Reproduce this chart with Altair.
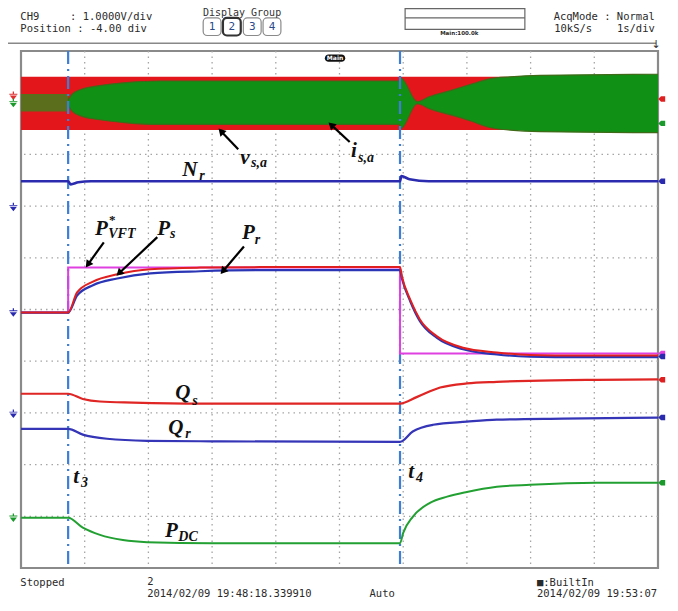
import altair as alt
import pandas as pd

# ---------------- values (time in s = div, level in div above bottom) ----
trig_t = [0.74, 5.95]                     # t3, t4 trigger markers
grid_t = [1, 2, 3, 4, 5, 6, 7, 8, 9]
grid_d = [1, 2, 3, 4, 5, 6, 7, 8, 9]

# v_s,a band (red envelope)
vsa_t = [0.0, 10.0]
vsa_hi = [9.50, 9.50]
vsa_lo = [8.47, 8.47]

# i_s,a before t3 (small, dark)
isa_pre_t = [0.0, 0.74]
isa_pre_hi = [9.17, 9.17]
isa_pre_lo = [8.83, 8.83]

# i_s,a envelope after t3 (green)
isa_t = [0.74, 0.80, 0.93, 1.24, 1.66, 2.18, 3.00, 5.94, 5.96, 6.22, 6.42, 6.73, 7.05, 7.36, 7.68, 8.15, 10.0]
isa_hi = [9.05, 9.16, 9.25, 9.33, 9.39, 9.42, 9.42, 9.42, 9.48, 9.02, 9.12, 9.23, 9.35, 9.46, 9.50, 9.53, 9.55]
isa_lo = [8.95, 8.84, 8.75, 8.67, 8.61, 8.58, 8.58, 8.58, 8.50, 8.98, 8.88, 8.77, 8.65, 8.52, 8.47, 8.44, 8.42]

nr_t = [0.0, 0.74, 0.78, 0.90, 1.10, 5.95, 5.97, 6.10, 6.40, 10.0]
nr_v = [7.48, 7.48, 7.42, 7.46, 7.48, 7.48, 7.58, 7.52, 7.48, 7.48]

pvft_t = [0.0, 0.74, 0.74, 5.95, 5.95, 10.0]
pvft_v = [4.94, 4.94, 5.81, 5.81, 4.15, 4.15]

ps_t = [0.0, 0.74, 0.88, 1.13, 1.51, 2.03, 2.81, 3.75, 5.95, 5.98, 6.11, 6.26, 6.53, 6.94, 7.47, 7.99, 8.78, 10.0]
ps_v = [4.94, 4.94, 5.33, 5.54, 5.68, 5.78, 5.81, 5.82, 5.82, 5.64, 5.19, 4.81, 4.48, 4.26, 4.17, 4.12, 4.11, 4.11]

pr_t = [0.0, 0.74, 0.88, 1.13, 1.51, 2.03, 2.81, 3.75, 5.95, 5.98, 6.11, 6.26, 6.53, 6.94, 7.47, 7.99, 8.78, 10.0]
pr_v = [4.94, 4.94, 5.27, 5.47, 5.60, 5.70, 5.74, 5.76, 5.76, 5.60, 5.16, 4.78, 4.45, 4.23, 4.13, 4.09, 4.08, 4.08]

qs_t = [0.0, 0.74, 0.97, 1.24, 1.76, 2.81, 5.95, 6.22, 6.58, 7.00, 7.47, 7.99, 9.04, 10.0]
qs_v = [3.37, 3.37, 3.27, 3.22, 3.20, 3.18, 3.18, 3.31, 3.49, 3.57, 3.60, 3.62, 3.64, 3.65]

qr_t = [0.0, 0.74, 0.97, 1.35, 1.98, 3.00, 5.95, 6.15, 6.47, 7.00, 7.47, 8.51, 10.0]
qr_v = [2.69, 2.69, 2.58, 2.50, 2.46, 2.45, 2.44, 2.64, 2.77, 2.83, 2.87, 2.89, 2.91]

pdc_t = [0.0, 0.74, 0.97, 1.24, 1.60, 1.98, 3.00, 5.95, 6.00, 6.15, 6.42, 6.69, 7.00, 7.47, 7.99, 9.04, 10.0]
pdc_v = [0.97, 0.97, 0.78, 0.64, 0.54, 0.50, 0.48, 0.48, 0.68, 0.99, 1.26, 1.38, 1.47, 1.57, 1.61, 1.65, 1.65]

# channel markers
gnd_d = [9.13, 8.99, 6.98, 4.94, 2.98, 0.97]
gnd_c = ["#e03030", "#1a9a2a", "#2a2ab0", "#2a2ab0", "#2a2ab0", "#1a9a2a"]
end_d = [9.07, 8.60, 7.48, 4.15, 4.09, 3.64, 2.91, 1.65]
end_c = ["#e02020", "#1a9a2a", "#2a2ab0", "#e040e0", "#2a2ab0", "#e02020", "#2a2ab0", "#1a9a2a"]

# annotation labels: main symbol + subscript
lab_main = ["N", "v", "i", "P", "P", "P", "Q", "Q", "t", "t", "P"]
lab_mx = [2.53, 3.44, 5.18, 1.16, 2.14, 3.47, 2.42, 2.31, 0.82, 6.08, 2.26]
lab_my = [7.58, 7.81, 7.95, 6.45, 6.45, 6.36, 3.26, 2.60, 1.65, 1.74, 0.60]
lab_sub = ["r", "s,a", "s,a", "VFT", "s", "r", "s", "r", "3", "4", "DC"]
lab_sx = [2.80, 3.61, 5.29, 1.37, 2.34, 3.67, 2.69, 2.58, 0.94, 6.20, 2.47]
lab_sy = [7.50, 7.75, 7.85, 6.38, 6.38, 6.26, 3.16, 2.52, 1.57, 1.67, 0.52]

# arrows: start (label side) -> tip
arr_id = ["v", "i", "pvft", "ps", "pr"]
arr_x0 = [3.41, 5.16, 1.30, 2.14, 3.50]
arr_y0 = [8.10, 8.24, 6.30, 6.40, 6.22]
arr_x1 = [3.14, 4.87, 1.05, 1.54, 3.17]
arr_y1 = [8.45, 8.57, 5.87, 5.70, 5.74]
arr_ang = [317, 312, 216, 226, 220]

# screen header / footer texts
hdr_left = ["CH9", ": 1.0000V/div", "Position : -4.00 div", "10kS/s"]
hdr_left_x = [-0.01, 0.77, -0.01, 8.37]
hdr_left_y = [10.60, 10.60, 10.37, 10.37]
ftr_left = ["Stopped", "2", "2014/02/09 19:48:18.339910", "\u25a0:BuiltIn", "2014/02/09 19:53:07"]
ftr_left_x = [-0.01, 1.98, 1.98, 8.10, 8.10]
ftr_left_y = [-0.35, -0.33, -0.56, -0.35, -0.56]

# ------------------------------------------------------------------------------------------
xs = alt.Scale(domain=[0, 10], nice=False, zero=False)
ys = alt.Scale(domain=[0, 10], nice=False, zero=False)
X = lambda f: alt.X(f, type="quantitative", scale=xs, axis=None)
Y = lambda f: alt.Y(f, type="quantitative", scale=ys, axis=None)

layers = []

# grid
layers.append(alt.Chart(pd.DataFrame({"t": grid_t})).mark_rule(
    color="#a5a5a5", strokeDash=[1.5, 4], strokeWidth=1.3).encode(x=X("t")))
layers.append(alt.Chart(pd.DataFrame({"d": grid_d})).mark_rule(
    color="#a5a5a5", strokeDash=[1.5, 4], strokeWidth=1.3).encode(y=Y("d")))

# v_s,a band
layers.append(alt.Chart(pd.DataFrame({"t": vsa_t, "hi": vsa_hi, "lo": vsa_lo})).mark_area(
    color="#e3161c", opacity=1).encode(x=X("t"), y=Y("hi"), y2="lo:Q"))
# i_s,a small before t3
layers.append(alt.Chart(pd.DataFrame({"t": isa_pre_t, "hi": isa_pre_hi, "lo": isa_pre_lo})).mark_area(
    color="#5a6e1c", opacity=1).encode(x=X("t"), y=Y("hi"), y2="lo:Q"))
# i_s,a envelope
isa_df = pd.DataFrame({"t": isa_t, "hi": isa_hi, "lo": isa_lo})
layers.append(alt.Chart(isa_df).mark_area(color="#119016", opacity=1, interpolate="monotone").encode(
    x=X("t"), y=Y("hi"), y2="lo:Q"))
layers.append(alt.Chart(isa_df).mark_line(color="#3f6a18", strokeWidth=1.2, interpolate="monotone").encode(
    x=X("t"), y=Y("hi")))
layers.append(alt.Chart(isa_df).mark_line(color="#3f6a18", strokeWidth=1.2, interpolate="monotone").encode(
    x=X("t"), y=Y("lo")))

# trigger markers t3 / t4
layers.append(alt.Chart(pd.DataFrame({"t": trig_t})).mark_rule(
    color="#3d7fd6", strokeDash=[13, 5, 2, 5], strokeWidth=2.2).encode(x=X("t")))


def trace(t, v, color, width=2.0, interp="monotone"):
    df = pd.DataFrame({"t": t, "v": v, "i": list(range(len(t)))})
    return alt.Chart(df).mark_line(color=color, strokeWidth=width, interpolate=interp).encode(
        x=X("t"), y=Y("v"), order=alt.Order("i:Q"))


layers.append(trace(nr_t, nr_v, "#2b2bb0", 2.6))
layers.append(trace(pvft_t, pvft_v, "#e040e0", 2.0, "linear"))
layers.append(trace(pr_t, pr_v, "#2a35b5", 2.2))
layers.append(trace(ps_t, ps_v, "#e02020", 2.0))
layers.append(trace(qs_t, qs_v, "#e02525", 2.2))
layers.append(trace(qr_t, qr_v, "#3535b8", 2.2))
layers.append(trace(pdc_t, pdc_v, "#22a032", 2.0))

# channel markers
gnd_shape = ("M-0.8,-0.1L0.8,-0.1L0,0.9Z M-0.9,-0.5L0.9,-0.5L0.9,-0.3L-0.9,-0.3Z "
             "M-0.14,-1L0.14,-1L0.14,-0.5L-0.14,-0.5Z")
layers.append(alt.Chart(pd.DataFrame({"t": [-0.12] * len(gnd_d), "d": gnd_d, "c": gnd_c})).mark_point(
    shape=gnd_shape, filled=True, size=80, opacity=1).encode(
    x=X("t"), y=Y("d"), color=alt.Color("c:N", scale=None)))
end_shape = "M-1,0L-0.35,-0.65L0.65,-0.65L0.65,0.65L-0.35,0.65Z"
layers.append(alt.Chart(pd.DataFrame({"t": [10.07] * len(end_d), "d": end_d, "c": end_c})).mark_point(
    shape=end_shape, filled=True, size=70, opacity=1).encode(
    x=X("t"), y=Y("d"), color=alt.Color("c:N", scale=None)))

# arrows
arr_line = pd.DataFrame({
    "id": arr_id + arr_id,
    "x": arr_x0 + arr_x1,
    "y": arr_y0 + arr_y1,
    "o": [0] * len(arr_id) + [1] * len(arr_id)})
layers.append(alt.Chart(arr_line).mark_line(color="black", strokeWidth=2.2).encode(
    x=X("x"), y=Y("y"), detail="id:N", order="o:Q"))
layers.append(alt.Chart(pd.DataFrame({"x": arr_x1, "y": arr_y1, "a": arr_ang})).mark_point(
    shape="triangle-up", filled=True, color="black", size=70, opacity=1).encode(
    x=X("x"), y=Y("y"), angle=alt.Angle("a:Q", scale=None)))

# math labels
layers.append(alt.Chart(pd.DataFrame({"x": lab_mx, "y": lab_my, "s": lab_main})).mark_text(
    font="Liberation Serif", fontStyle="italic", fontWeight="bold", fontSize=21,
    align="left", baseline="alphabetic", color="#111").encode(x=X("x"), y=Y("y"), text="s:N"))
layers.append(alt.Chart(pd.DataFrame({"x": lab_sx, "y": lab_sy, "s": lab_sub})).mark_text(
    font="Liberation Serif", fontStyle="italic", fontWeight="bold", fontSize=14,
    align="left", baseline="alphabetic", color="#111").encode(x=X("x"), y=Y("y"), text="s:N"))
layers.append(alt.Chart(pd.DataFrame({"x": [1.38], "y": [6.66], "s": ["*"]})).mark_text(
    font="Liberation Serif", fontWeight="bold", fontSize=13,
    align="left", baseline="alphabetic", color="#111").encode(x=X("x"), y=Y("y"), text="s:N"))

# "Main" pill
layers.append(alt.Chart(pd.DataFrame({"x": [4.77], "x2": [5.09], "y": [9.93], "y2": [9.79]})).mark_rect(
    color="#111", cornerRadius=4).encode(x=X("x"), x2="x2:Q", y=Y("y"), y2="y2:Q"))
layers.append(alt.Chart(pd.DataFrame({"x": [4.93], "y": [9.86], "s": ["Main"]})).mark_text(
    font="DejaVu Sans", fontWeight="bold", fontSize=6, color="white", baseline="middle").encode(
    x=X("x"), y=Y("y"), text="s:N"))

# header decorations
sep = pd.DataFrame({"x": [-0.33], "x2": [9.97], "y": [10.15]})
layers.append(alt.Chart(sep).mark_rule(color="#888", strokeWidth=1.5).encode(
    x=X("x"), x2="x2:Q", y=Y("y")))
box_x = [2.86, 3.17, 3.49, 3.80]
box_df = pd.DataFrame({"x": box_x, "x2": [b + 0.28 for b in box_x], "y": [10.64] * 4, "y2": [10.30] * 4,
                       "sw": [1.2, 2.2, 1.2, 1.2], "sc": ["#8a8a8a", "#333", "#8a8a8a", "#8a8a8a"]})
layers.append(alt.Chart(box_df).mark_rect(fill="white", cornerRadius=4).encode(
    x=X("x"), x2="x2:Q", y=Y("y"), y2="y2:Q",
    stroke=alt.Stroke("sc:N", scale=None), strokeWidth=alt.StrokeWidth("sw:Q", scale=None)))
layers.append(alt.Chart(pd.DataFrame({"x": [3.00, 3.31, 3.63, 3.94], "y": [10.47] * 4,
                                      "s": ["1", "2", "3", "4"]})).mark_text(
    font="DejaVu Sans Mono", fontSize=11, color="#2a4a8a", baseline="middle").encode(
    x=X("x"), y=Y("y"), text="s:N"))
layers.append(alt.Chart(pd.DataFrame({"x": [3.47], "y": [10.685], "s": ["Display Group"]})).mark_text(
    font="DejaVu Sans Mono", fontSize=10, color="#333", baseline="alphabetic").encode(
    x=X("x"), y=Y("y"), text="s:N"))
layers.append(alt.Chart(pd.DataFrame({"x": [6.03], "x2": [7.91], "y": [10.82], "y2": [10.42]})).mark_rect(
    fill="white", stroke="#666", strokeWidth=1.2).encode(x=X("x"), x2="x2:Q", y=Y("y"), y2="y2:Q"))
layers.append(alt.Chart(pd.DataFrame({"x": [6.03], "x2": [7.91], "y": [10.64]})).mark_rule(
    color="#666", strokeWidth=1.2).encode(x=X("x"), x2="x2:Q", y=Y("y")))
layers.append(alt.Chart(pd.DataFrame({"x": [6.58], "y": [10.31], "s": ["Main:100.0k"]})).mark_text(
    font="DejaVu Sans", fontWeight="bold", fontSize=5.5, color="#2a2a2a", align="left",
    baseline="alphabetic").encode(x=X("x"), y=Y("y"), text="s:N"))

layers.append(alt.Chart(pd.DataFrame({"x": hdr_left_x, "y": hdr_left_y, "s": hdr_left})).mark_text(
    font="DejaVu Sans Mono", fontSize=10.5, color="#2a2a2a", align="left", baseline="alphabetic").encode(
    x=X("x"), y=Y("y"), text="s:N"))
layers.append(alt.Chart(pd.DataFrame({"x": [9.95, 9.95], "y": [10.60, 10.37],
                                      "s": ["AcqMode : Normal", "1s/div"]})).mark_text(
    font="DejaVu Sans Mono", fontSize=10.5, color="#2a2a2a", align="right", baseline="alphabetic").encode(
    x=X("x"), y=Y("y"), text="s:N"))
layers.append(alt.Chart(pd.DataFrame({"x": [9.97], "y": [10.05], "s": ["\u2193"]})).mark_text(
    font="DejaVu Sans", fontSize=11, color="#333", baseline="alphabetic").encode(
    x=X("x"), y=Y("y"), text="s:N"))

# footer
layers.append(alt.Chart(pd.DataFrame({"x": ftr_left_x, "y": ftr_left_y, "s": ftr_left})).mark_text(
    font="DejaVu Sans Mono", fontSize=10.5, color="#2a2a2a", align="left", baseline="alphabetic").encode(
    x=X("x"), y=Y("y"), text="s:N"))
layers.append(alt.Chart(pd.DataFrame({"x": [5.67], "y": [-0.56], "s": ["Auto"]})).mark_text(
    font="DejaVu Sans Mono", fontSize=10.5, color="#2a2a2a", align="center", baseline="alphabetic").encode(
    x=X("x"), y=Y("y"), text="s:N"))

chart = alt.layer(*layers).properties(
    width=637, height=517,
    autosize=alt.AutoSizeParams(type="none"),
    padding={"left": 13, "top": 43, "right": 12, "bottom": 30},
    background="white",
).configure_view(stroke="#8a8a8a", strokeWidth=2.2)

chart.save("out.html", embed_options={"renderer": "svg", "actions": False})
